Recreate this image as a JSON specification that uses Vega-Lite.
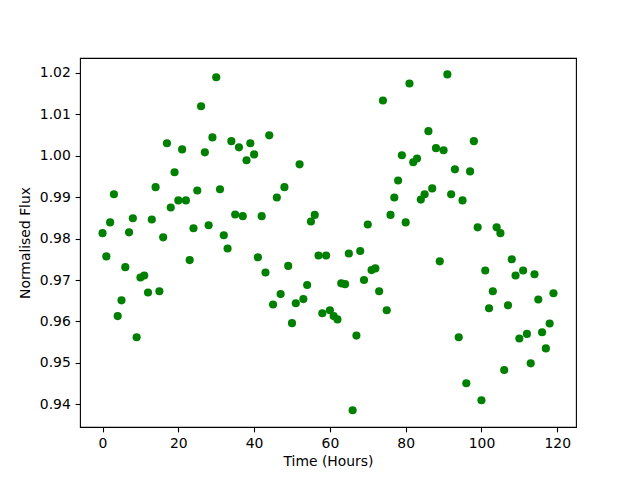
{
  "$schema": "https://vega.github.io/schema/vega-lite/v6.json",
  "width": 496,
  "height": 369,
  "autosize": {"type": "none"},
  "padding": {"left": 80, "top": 58, "right": 64, "bottom": 53},
  "background": "white",
  "config": {
    "view": {"stroke": "black", "strokeWidth": 1.1},
    "font": "DejaVu Sans",
    "axis": {
      "grid": false,
      "domain": false,
      "tickColor": "black",
      "tickSize": 4.86,
      "tickWidth": 1.1,
      "labelPadding": 4.86,
      "labelFont": "DejaVu Sans",
      "labelFontSize": 13.9,
      "labelColor": "black",
      "titleFont": "DejaVu Sans",
      "titleFontSize": 13.9,
      "titleFontWeight": "normal",
      "titleColor": "black"
    }
  },
  "data": {
    "values": [
      {"t": 0, "f": 0.9813}, {"t": 1, "f": 0.9757}, {"t": 2, "f": 0.9839}, {"t": 3, "f": 0.9907},
      {"t": 4, "f": 0.9613}, {"t": 5, "f": 0.9651}, {"t": 6, "f": 0.9731}, {"t": 7, "f": 0.9815},
      {"t": 8, "f": 0.9849}, {"t": 9, "f": 0.9562}, {"t": 10, "f": 0.9706}, {"t": 11, "f": 0.9711},
      {"t": 12, "f": 0.9670}, {"t": 13, "f": 0.9846}, {"t": 14, "f": 0.9924}, {"t": 15, "f": 0.9673},
      {"t": 16, "f": 0.9803}, {"t": 17, "f": 1.0030}, {"t": 18, "f": 0.9875}, {"t": 19, "f": 0.9960},
      {"t": 20, "f": 0.9892}, {"t": 21, "f": 1.0015}, {"t": 22, "f": 0.9892}, {"t": 23, "f": 0.9748},
      {"t": 24, "f": 0.9825}, {"t": 25, "f": 0.9916}, {"t": 26, "f": 1.0119}, {"t": 27, "f": 1.0008},
      {"t": 28, "f": 0.9832}, {"t": 29, "f": 1.0044}, {"t": 30, "f": 1.0189}, {"t": 31, "f": 0.9919},
      {"t": 32, "f": 0.9808}, {"t": 33, "f": 0.9776}, {"t": 34, "f": 1.0035}, {"t": 35, "f": 0.9858},
      {"t": 36, "f": 1.0020}, {"t": 37, "f": 0.9854}, {"t": 38, "f": 0.9989}, {"t": 39, "f": 1.0030},
      {"t": 40, "f": 1.0003}, {"t": 41, "f": 0.9755}, {"t": 42, "f": 0.9854}, {"t": 43, "f": 0.9718},
      {"t": 44, "f": 1.0049}, {"t": 45, "f": 0.9641}, {"t": 46, "f": 0.9899}, {"t": 47, "f": 0.9666},
      {"t": 48, "f": 0.9924}, {"t": 49, "f": 0.9734}, {"t": 50, "f": 0.9596}, {"t": 51, "f": 0.9644},
      {"t": 52, "f": 0.9979}, {"t": 53, "f": 0.9654}, {"t": 54, "f": 0.9688}, {"t": 55, "f": 0.9841},
      {"t": 56, "f": 0.9857}, {"t": 57, "f": 0.9759}, {"t": 58, "f": 0.9620}, {"t": 59, "f": 0.9759},
      {"t": 60, "f": 0.9627}, {"t": 61, "f": 0.9613}, {"t": 62, "f": 0.9605}, {"t": 63, "f": 0.9692},
      {"t": 64, "f": 0.9690}, {"t": 65, "f": 0.9764}, {"t": 66, "f": 0.9386}, {"t": 67, "f": 0.9566},
      {"t": 68, "f": 0.9770}, {"t": 69, "f": 0.9700}, {"t": 70, "f": 0.9834}, {"t": 71, "f": 0.9724},
      {"t": 72, "f": 0.9728}, {"t": 73, "f": 0.9673}, {"t": 74, "f": 1.0133}, {"t": 75, "f": 0.9627},
      {"t": 76, "f": 0.9857}, {"t": 77, "f": 0.9899}, {"t": 78, "f": 0.9940}, {"t": 79, "f": 1.0001},
      {"t": 80, "f": 0.9839}, {"t": 81, "f": 1.0174}, {"t": 82, "f": 0.9984}, {"t": 83, "f": 0.9993},
      {"t": 84, "f": 0.9894}, {"t": 85, "f": 0.9907}, {"t": 86, "f": 1.0059}, {"t": 87, "f": 0.9921},
      {"t": 88, "f": 1.0018}, {"t": 89, "f": 0.9745}, {"t": 90, "f": 1.0013}, {"t": 91, "f": 1.0196},
      {"t": 92, "f": 0.9907}, {"t": 93, "f": 0.9967}, {"t": 94, "f": 0.9562}, {"t": 95, "f": 0.9892},
      {"t": 96, "f": 0.9451}, {"t": 97, "f": 0.9962}, {"t": 98, "f": 1.0035}, {"t": 99, "f": 0.9827},
      {"t": 100, "f": 0.9410}, {"t": 101, "f": 0.9723}, {"t": 102, "f": 0.9632}, {"t": 103, "f": 0.9673},
      {"t": 104, "f": 0.9827}, {"t": 105, "f": 0.9813}, {"t": 106, "f": 0.9483}, {"t": 107, "f": 0.9639},
      {"t": 108, "f": 0.9750}, {"t": 109, "f": 0.9711}, {"t": 110, "f": 0.9559}, {"t": 111, "f": 0.9723},
      {"t": 112, "f": 0.9570}, {"t": 113, "f": 0.9499}, {"t": 114, "f": 0.9714}, {"t": 115, "f": 0.9653},
      {"t": 116, "f": 0.9574}, {"t": 117, "f": 0.9535}, {"t": 118, "f": 0.9595}, {"t": 119, "f": 0.9668}
    ]
  },
  "mark": {"type": "circle", "color": "#008000", "opacity": 1, "size": 66},
  "encoding": {
    "x": {
      "field": "t",
      "type": "quantitative",
      "title": "Time (Hours)",
      "scale": {"domain": [-5.95, 124.95], "nice": false, "zero": false},
      "axis": {"values": [0, 20, 40, 60, 80, 100, 120], "format": "d", "titlePadding": 4}
    },
    "y": {
      "field": "f",
      "type": "quantitative",
      "title": "Normalised Flux",
      "scale": {"domain": [0.93455, 1.02355], "nice": false, "zero": false},
      "axis": {"values": [0.94, 0.95, 0.96, 0.97, 0.98, 0.99, 1.0, 1.01, 1.02], "format": ".2f", "titlePadding": 7}
    }
  }
}
